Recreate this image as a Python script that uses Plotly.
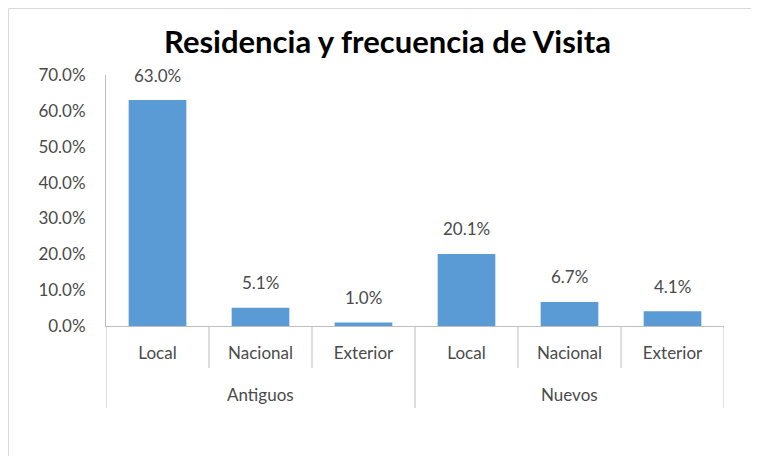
import plotly.graph_objects as go

groups = ["Antiguos", "Nuevos"]
subcats = ["Local", "Nacional", "Exterior"]
values = [63.0, 5.1, 1.0, 20.1, 6.7, 4.1]
labels = ["63.0%", "5.1%", "1.0%", "20.1%", "6.7%", "4.1%"]
y_ticks = [0, 10, 20, 30, 40, 50, 60, 70]
y_ticktext = ["0.0%", "10.0%", "20.0%", "30.0%", "40.0%", "50.0%", "60.0%", "70.0%"]

xpos = list(range(len(values)))
ticktext = subcats * len(groups)

FONT = "Lato"
GRAY = "#4a4a4a"
LINE = "#bfbfbf"
FS = 17

L, R, T, B = 98, 43, 67, 138
W, H = 759, 456
PW = W - L - R
PH = H - T - B

fig = go.Figure()
fig.add_trace(go.Bar(x=xpos, y=values, marker=dict(color="#5B9BD5", line=dict(width=0)),
                     hoverinfo="skip"))

for xv, yv, t in zip(xpos, values, labels):
    fig.add_annotation(x=xv, y=yv, text=t, showarrow=False, yshift=25,
                       font=dict(family=FONT, size=FS, color=GRAY), xref="x", yref="y")

# group labels
n = len(subcats)
for gi, g in enumerate(groups):
    fig.add_annotation(x=gi * n + (n - 1) / 2, y=0, xref="x", yref="y", text=g,
                       showarrow=False, yshift=-68,
                       font=dict(family=FONT, size=FS, color=GRAY))

# separators
for b in range(len(values) + 1):
    xb = b - 0.5
    long = (b % n == 0)
    fig.add_shape(type="line", xref="x", yref="paper", x0=xb, x1=xb,
                  y0=0, y1=(-82 / PH) if long else (-42 / PH),
                  line=dict(color=LINE, width=1))

# outer chart frame
fx = (-L + 0.5) / PW
fy = (PH + T - 0.5) / PH
fig.add_shape(type="line", xref="paper", yref="paper", x0=fx, x1=1.2, y0=fy, y1=fy,
              line=dict(color="#d9d9d9", width=1))
fig.add_shape(type="line", xref="paper", yref="paper", x0=fx, x1=fx, y0=fy, y1=-1.0,
              line=dict(color="#d9d9d9", width=1))

fig.update_layout(
    width=W, height=H,
    margin=dict(l=L, r=R, t=T, b=B),
    paper_bgcolor="white", plot_bgcolor="white",
    bargap=0.44,
    showlegend=False,
    title=dict(text="<b>Residencia y frecuencia de Visita</b>", x=0.5, xanchor="center",
               xref="container", y=1 - 34 / H, yanchor="middle",
               font=dict(family=FONT, size=31, color="black")),
    xaxis=dict(range=[-0.5, len(values) - 0.5], tickvals=xpos, ticktext=ticktext,
               showline=True, linecolor=LINE, linewidth=1, ticks="", showgrid=False,
               zeroline=False, ticklabelstandoff=12,
               tickfont=dict(family=FONT, size=FS, color=GRAY), fixedrange=True),
    yaxis=dict(range=[0, 70], tickvals=y_ticks, ticktext=y_ticktext,
               showline=True, linecolor=LINE, linewidth=1, ticks="", showgrid=False,
               zeroline=False, ticklabelstandoff=16,
               tickfont=dict(family=FONT, size=FS, color=GRAY), fixedrange=True),
)

fig.write_html("out.html")
